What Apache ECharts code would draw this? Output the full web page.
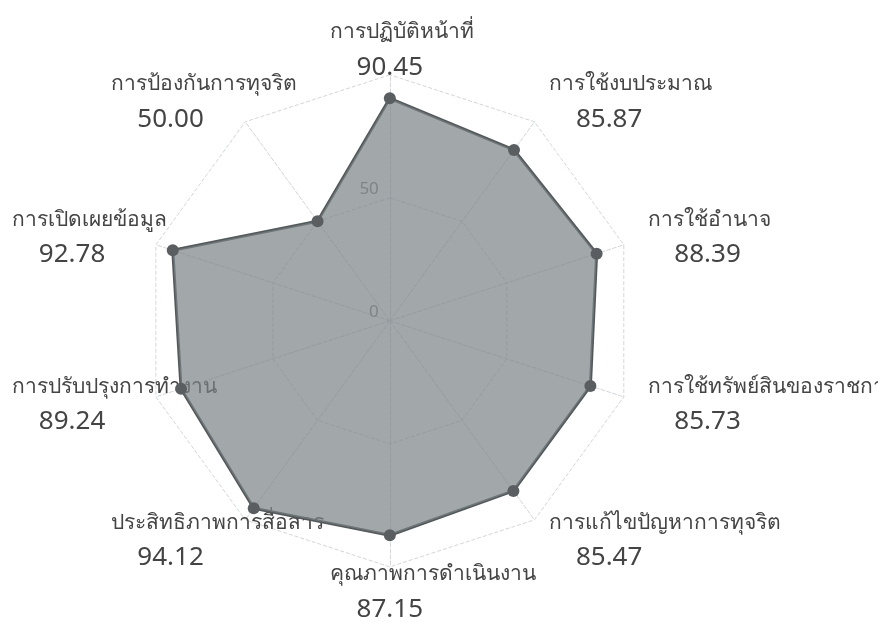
<!DOCTYPE html>
<html>
<head>
<meta charset="utf-8">
<script src="https://cdn.jsdelivr.net/npm/echarts@6/dist/echarts.min.js"></script>
<style>
html,body{margin:0;padding:0;background:#fff;}
#chart{width:878px;height:623px;}
</style>
</head>
<body>
<div id="chart"></div>
<script>
// Indicators in clockwise order starting at the top
var categories = [
  'การปฏิบัติหน้าที่',
  'การใช้งบประมาณ',
  'การใช้อำนาจ',
  'การใช้ทรัพย์สินของราชการ',
  'การแก้ไขปัญหาการทุจริต',
  'คุณภาพการดำเนินงาน',
  'ประสิทธิภาพการสื่อสาร',
  'การปรับปรุงการทำงาน',
  'การเปิดเผยข้อมูล',
  'การป้องกันการทุจริต'
];
var scores = [90.45, 85.87, 88.39, 85.73, 85.47, 87.15, 94.12, 89.24, 92.78, 50.00];
var axisMax = 100;
var axisTicks = [0, 50, 100];

// ECharts places indicators counter-clockwise; reorder so they read clockwise
var order = [0];
for (var i = categories.length - 1; i >= 1; i--) order.push(i);
var valueByName = {};
categories.forEach(function (c, i) { valueByName[c] = scores[i]; });

var indicators = order.map(function (idx, k) {
  var ind = { name: categories[idx], max: axisMax, min: 0 };
  ind.axisLabel = { show: k === 0, showMaxLabel: false, showMinLabel: true };
  return ind;
});
var values = order.map(function (idx) { return scores[idx]; });

var chart = echarts.init(document.getElementById('chart'));
chart.setOption({
  backgroundColor: '#ffffff',
  animation: false,
  radar: {
    center: ['44.4%', '51.5%'],
    radius: 246,
    startAngle: 90,
    splitNumber: axisTicks.length - 1,
    shape: 'polygon',
    indicator: indicators,
    nameGap: 25,
    axisName: {
      verticalAlign: 'middle',
      formatter: function (name) {
        return '{n|' + name + '}\n{v|' + valueByName[name].toFixed(2) + '}';
      },
      rich: {
        n: { fontSize: 21, color: '#444444', fontFamily: 'Noto Sans, sans-serif', lineHeight: 35, width: 120, align: 'left' },
        v: { fontSize: 26, color: '#444444', fontFamily: 'Noto Sans, sans-serif', lineHeight: 35, align: 'center' }
      }
    },
    axisLine: { lineStyle: { color: '#d3d6da', type: 'dashed', width: 1 } },
    splitLine: { lineStyle: { color: '#d3d6da', type: 'dashed', width: 1 } },
    splitArea: { show: false },
    axisLabel: { show: false, color: '#888c8e', fontSize: 17, fontFamily: 'Noto Sans, sans-serif', verticalAlign: 'bottom', margin: 11 },
    axisTick: { show: false }
  },
  series: [{
    type: 'radar',
    symbol: 'circle',
    symbolSize: 12,
    lineStyle: { color: '#53585a', width: 3 },
    itemStyle: { color: '#5a5e60' },
    areaStyle: { color: '#7a8184', opacity: 0.7 },
    data: [{ value: values, name: 'คะแนน' }]
  }]
});
</script>
</body>
</html>
